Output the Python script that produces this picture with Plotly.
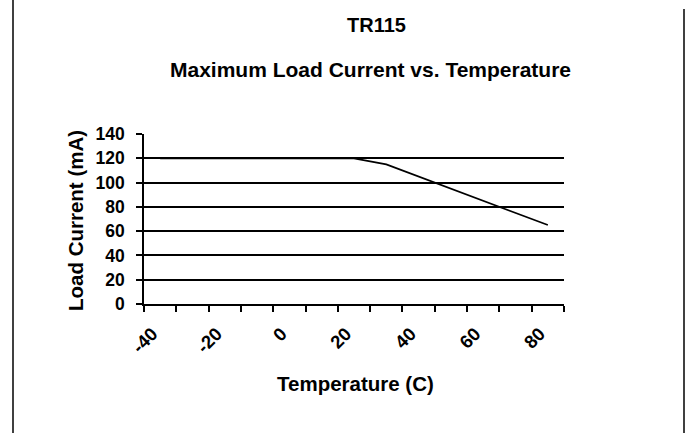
import plotly.graph_objects as go

# Data
temperature_c = [-40, -30, -20, -10, 0, 10, 20, 30, 40, 50, 60, 70, 80]
load_current_ma = [120, 120, 120, 120, 120, 120, 120, 115, 105, 95, 85, 75, 65]
x_tick_labels = [-40, -20, 0, 20, 40, 60, 80]
chart_title = "TR115"
chart_subtitle = "Maximum Load Current vs. Temperature"

FONT = "Liberation Sans, Arial, sans-serif"

# layout geometry (pixels)
W, H = 686, 433
L, R, T, B = 144, 122, 134, 129
PW = W - L - R
PH = H - T - B


def px(x):
    return (x - L) / PW


def py(y):
    return (H - B - y) / PH


fig = go.Figure()
fig.add_trace(go.Scatter(
    x=temperature_c, y=load_current_ma, mode="lines",
    line=dict(color="black", width=1.7), showlegend=False, hoverinfo="x+y",
))

fig.update_layout(
    width=W, height=H,
    margin=dict(l=L, r=R, t=T, b=B, pad=0),
    paper_bgcolor="white", plot_bgcolor="white",
    font=dict(family=FONT, color="black", size=17, weight="bold"),
    xaxis=dict(
        range=[-45, 85], tickmode="array", tickvals=x_tick_labels,
        ticktext=[str(v) for v in x_tick_labels], tickangle=-45,
        ticks="", showgrid=False, zeroline=False,
        showline=True, linecolor="black", linewidth=1.6,
        ticklabelstandoff=10, ticklabelshift=-8,
        tickfont=dict(family=FONT, size=18.5, color="black", weight="bold"),
        minor=dict(ticks="outside", tick0=-45, dtick=10, ticklen=6,
                   tickcolor="black", tickwidth=1.6, showgrid=False),
    ),
    yaxis=dict(
        range=[0, 140], dtick=20, tick0=0,
        showgrid=True, gridcolor="black", gridwidth=1.6, zeroline=False,
        showline=True, linecolor="black", linewidth=1.6,
        ticks="outside", ticklen=6, tickcolor="black", tickwidth=1.6,
        ticklabelstandoff=8,
        tickfont=dict(family=FONT, size=17.5, color="black", weight="bold"),
    ),
    annotations=[
        dict(text=chart_title, x=px(376), y=py(25), xref="paper", yref="paper",
             showarrow=False, xanchor="center", yanchor="middle",
             font=dict(family=FONT, size=20, weight="bold")),
        dict(text=chart_subtitle, x=px(370), y=py(69), xref="paper", yref="paper",
             showarrow=False, xanchor="center", yanchor="middle",
             font=dict(family=FONT, size=21, weight="bold")),
        dict(text="Load Current (mA)", x=px(75), y=py(221), xref="paper", yref="paper",
             showarrow=False, xanchor="center", yanchor="middle", textangle=-90,
             font=dict(family=FONT, size=20.5, weight="bold")),
        dict(text="Temperature (C)", x=px(355), y=py(383), xref="paper", yref="paper",
             showarrow=False, xanchor="center", yanchor="middle",
             font=dict(family=FONT, size=20.5, weight="bold")),
    ],
    shapes=[
        dict(type="line", xref="paper", yref="paper", x0=px(13), x1=px(13),
             y0=py(0), y1=py(433), line=dict(color="black", width=1.5)),
        dict(type="line", xref="paper", yref="paper", x0=px(684), x1=px(684),
             y0=py(9), y1=py(433), line=dict(color="black", width=1.5)),
    ],
)

fig.write_html(
    "out.html",
    config={"displayModeBar": False},
    post_script="document.body.style.margin='0';document.body.style.overflow='hidden';",
)
